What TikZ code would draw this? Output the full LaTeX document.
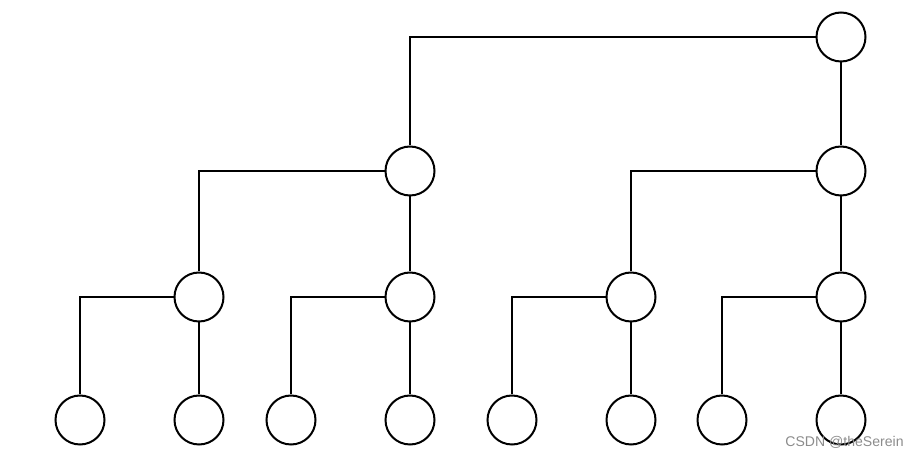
\documentclass[tikz,border=0pt]{standalone}
\usepackage{fontspec}
\newfontfamily\markfont{Liberation Sans}
\usetikzlibrary{positioning}

\begin{document}
\begin{tikzpicture}[vertex/.style={circle, draw, line width=0.04cm, minimum size=0.98cm, inner sep=0pt},
        link/.style={line width=0.04cm}, on grid]
        \useasboundingbox (0,0) rectangle (18.38,-9.16);
        \node[vertex] (root) at (16.82,-0.74) {};
        \node[vertex, below=2.68cm of root] (n-b) {};
        \node[vertex, left=8.62cm of n-b] (n-a) {};
        \node[vertex, below=2.52cm of n-a] (n-d) {};
        \node[vertex, left=4.22cm of n-d] (n-c) {};
        \node[vertex, below=2.52cm of n-b] (n-f) {};
        \node[vertex, left=4.2cm of n-f] (n-e) {};
        
        \node[vertex, below=2.46cm of n-c] (leaf-2) {};
        \node[vertex, left=2.38cm of leaf-2] (leaf-1) {};
        \node[vertex, below=2.46cm of n-d] (leaf-4) {};
        \node[vertex, left=2.38cm of leaf-4] (leaf-3) {};
        \node[vertex, below=2.46cm of n-e] (leaf-6) {};
        \node[vertex, left=2.38cm of leaf-6] (leaf-5) {};
        \node[vertex, below=2.46cm of n-f] (leaf-8) {};
        \node[vertex, left=2.38cm of leaf-8] (leaf-7) {};
        
        \draw[link] (root.west) -| (n-a.north);
        \draw[link] (root) -- (n-b);
        \draw[link] (n-a.west) -| (n-c.north);
        \draw[link] (n-a) -- (n-d);
        \draw[link] (n-b.west) -| (n-e.north);
        \draw[link] (n-b) -- (n-f);
        
        \draw[link] (n-c.west) -| (leaf-1.north);
        \draw[link] (n-c) -- (leaf-2);
        \draw[link] (n-d.west) -| (leaf-3.north);
        \draw[link] (n-d) -- (leaf-4);
        \draw[link] (n-e.west) -| (leaf-5.north);
        \draw[link] (n-e) -- (leaf-6);
        \draw[link] (n-f.west) -| (leaf-7.north);
        \draw[link] (n-f) -- (leaf-8);
        
        \node[font=\markfont\fontsize{8pt}{9.5pt}\selectfont, text=black!45] (mark) at (16.89,-8.84) {CSDN @theSerein};
    \end{tikzpicture}
\end{document}
